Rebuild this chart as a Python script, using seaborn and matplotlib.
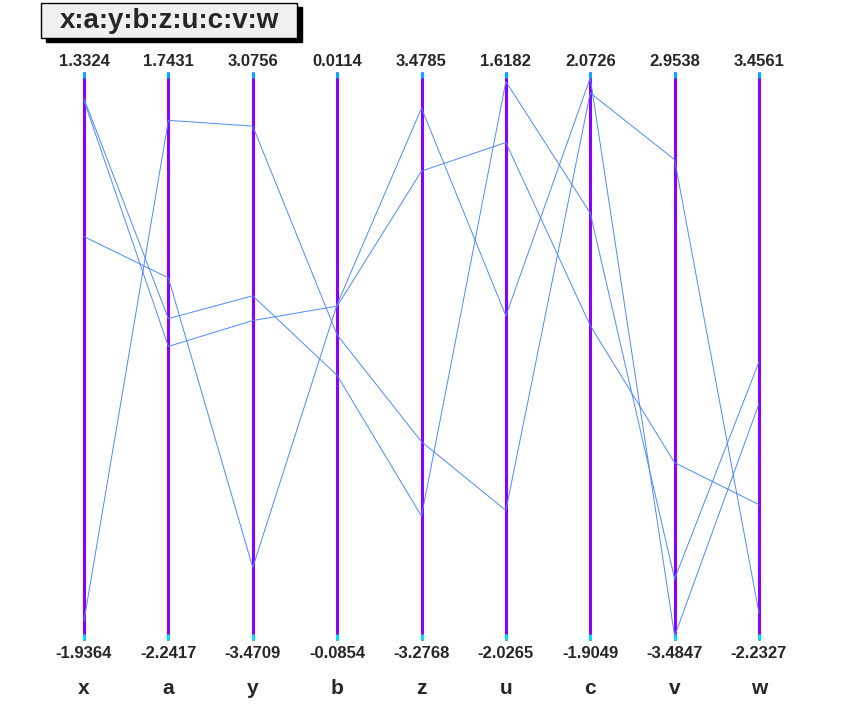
import numpy as np, pandas as pd, matplotlib
matplotlib.use("Agg")
import matplotlib.pyplot as plt
import seaborn as sns
from matplotlib.patches import Rectangle

variables = ["x", "a", "y", "b", "z", "u", "c", "v", "w"]
axis_max = [1.3324, 1.7431, 3.0756, 0.0114, 3.4785, 1.6182, 2.0726, 2.9538, 3.4561]
axis_min = [-1.9364, -2.2417, -3.4709, -0.0854, -3.2768, -2.0265, -1.9049, -3.4847, -2.2327]
entry1 = [-1.827, 1.404, 2.452, -0.0334, -0.919, -1.195, 1.926, 1.960, -1.965]
entry2 = [0.385, 0.299, -2.636, -0.0282, 3.048, 0.053, 2.032, -3.441, 0.134]
entry3 = [1.179, 0.013, 0.496, -0.0403, -1.804, 1.557, 1.085, -2.793, 0.554]
entry4 = [1.168, -0.182, 0.211, -0.0285, 2.300, 1.166, 0.297, -1.475, -0.877]
entries = [entry1, entry2, entry3, entry4]

rows = []
for k, e in enumerate(entries):
    for i, v in enumerate(e):
        frac = (v - axis_min[i]) / (axis_max[i] - axis_min[i])
        rows.append(dict(entry=k, pos=i, frac=frac))
df = pd.DataFrame(rows)

sns.set_style("white")
plt.rcParams['font.family'] = ['Liberation Sans', 'DejaVu Sans']
W, H = 844, 714
fig = plt.figure(figsize=(W/100, H/100), dpi=100)
top, bot, left, right = 72, 640, 84, 759
ax = fig.add_axes([left/W, 1-bot/H, (right-left)/W, (bot-top)/H])
ax.set_xlim(0, 8); ax.set_ylim(0, 1); ax.axis("off")

for i in range(len(variables)):
    ax.plot([i, i], [0, 1], color="#8800ff", lw=2.2, solid_capstyle="butt", zorder=1, clip_on=False)
    ax.plot([i, i], [0.99, 1], color="#00aaff", lw=2.2, solid_capstyle="butt", zorder=1, clip_on=False)
    ax.plot([i, i], [0, 0.01], color="#00ddee", lw=2.2, solid_capstyle="butt", zorder=1, clip_on=False)

sns.lineplot(data=df, x="pos", y="frac", units="entry", estimator=None, sort=False,
             color="#4f88ff", lw=0.7, ax=ax, legend=False, zorder=2)
for l in ax.lines: l.set_clip_on(False)
ax.axis("off")

for i, name in enumerate(variables):
    xf = (left + i*(right-left)/8)/W
    fig.text(xf, 1-62/H, f"{axis_max[i]:.4f}", ha="center", va="center", fontsize=12, fontweight="bold")
    fig.text(xf, 1-654/H, f"{axis_min[i]:.4f}", ha="center", va="center", fontsize=12, fontweight="bold")
    fig.text(xf, 1-689/H, name, ha="center", va="center", fontsize=15, fontweight="bold")

fig.patches.append(Rectangle((46/W, 1-42/H), 256/W, 35/H, transform=fig.transFigure, color="black", zorder=0))
fig.patches.append(Rectangle((41/W, 1-38/H), 256/W, 35/H, transform=fig.transFigure, facecolor="#f0f0f0", edgecolor="black", lw=1, zorder=1))
fig.text(169/W, 1-21/H, ":".join(variables), ha="center", va="center", fontsize=20, fontweight="bold")
fig.savefig("out.png", dpi=100)
